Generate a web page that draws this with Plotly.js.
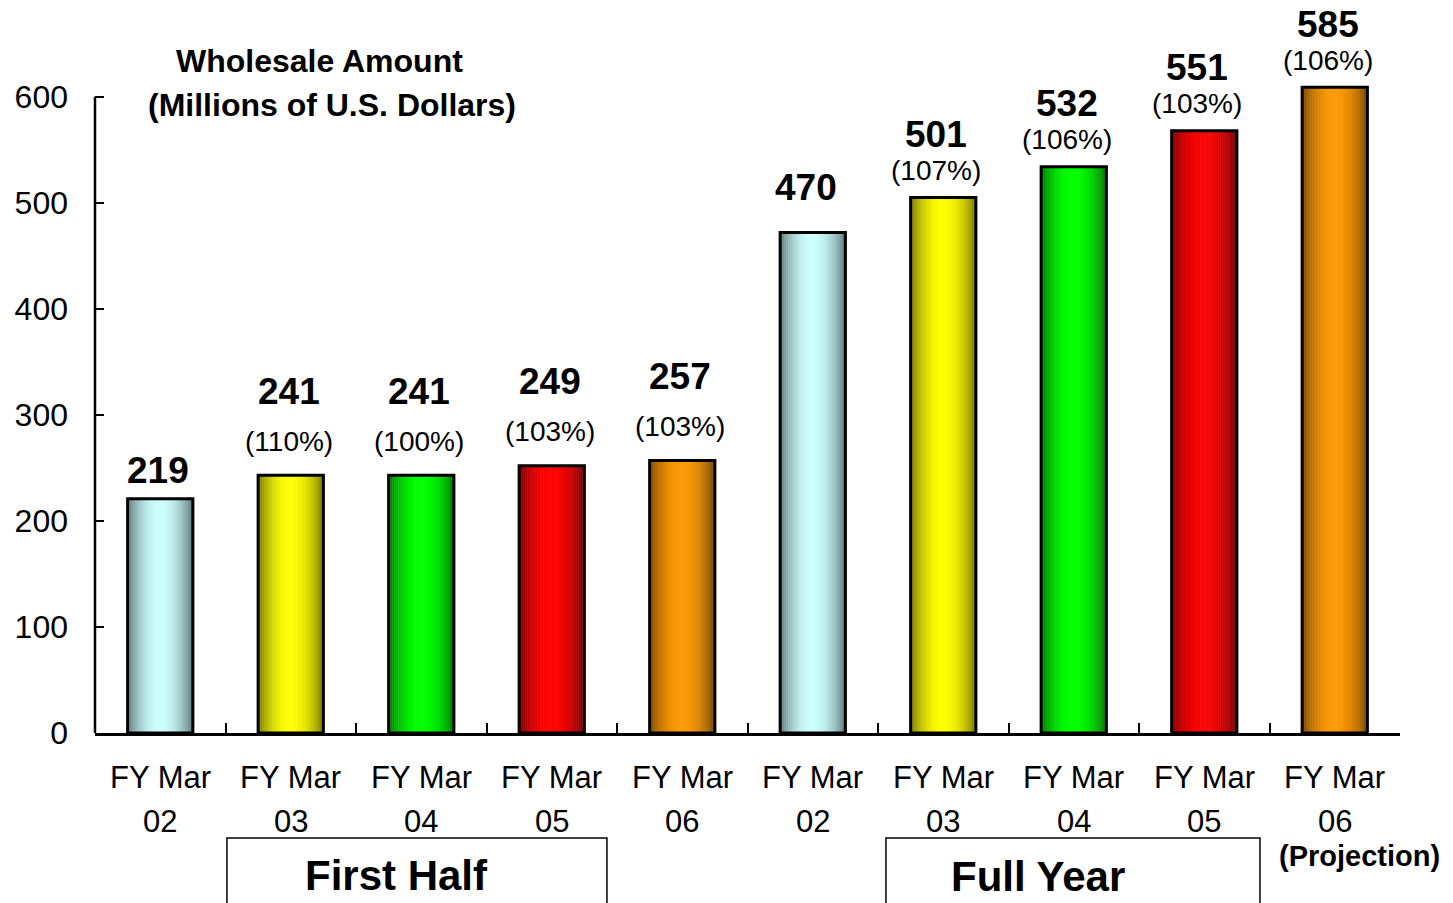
<!DOCTYPE html>
<html>
<head>
<meta charset="utf-8">
<script src="https://cdn.plot.ly/plotly-3.0.1.min.js"></script>
<style>html,body{margin:0;padding:0;background:#fff;}#chart{width:1453px;height:903px;}</style>
</head>
<body>
<div id="chart"></div>
<script>
// ---- data ----
const categories = ["H1 FY Mar 02","H1 FY Mar 03","H1 FY Mar 04","H1 FY Mar 05","H1 FY Mar 06",
                    "FY Mar 02","FY Mar 03","FY Mar 04","FY Mar 05","FY Mar 06 (Projection)"];
const barValues = [221, 243, 243, 252, 257, 472, 505, 534, 568, 609];
const valueLabels = ["219","241","241","249","257","470","501","532","551","585"];
const pctLabels = ["","(110%)","(100%)","(103%)","(103%)","","(107%)","(106%)","(103%)","(106%)"];
const groups = ["H1","H1","H1","H1","H1","FY","FY","FY","FY","FY"];
const tickTop = ["FY Mar","FY Mar","FY Mar","FY Mar","FY Mar","FY Mar","FY Mar","FY Mar","FY Mar","FY Mar"];
const tickBottom = ["02","03","04","05","06","02","03","04","05","06"];
const baseColors = ["#ccffff","#ffff00","#00ff00","#ff0000","#ff9900",
                    "#ccffff","#ffff00","#00ff00","#ff0000","#ff9900"];
const titleLines = ["Wholesale Amount","(Millions of U.S. Dollars)"];
const groupLabels = ["First Half","Full Year"];
const projectionLabel = "(Projection)";
const yMax = 600;

// ---- styling helpers ----
const FONT = "Liberation Sans, Arial, Helvetica, sans-serif";
function hexToRgb(h){h=h.replace('#','');return [parseInt(h.substr(0,2),16),parseInt(h.substr(2,2),16),parseInt(h.substr(4,2),16)];}
function shade(hex, t){
  const c = hexToRgb(hex);
  const f = Math.pow(Math.sin(Math.PI*t), 0.75);
  const darkF = 0.42;
  const out = c.map(v => Math.round(v*darkF + (v - v*darkF)*f));
  return 'rgb('+out.join(',')+')';
}

const W = 0.5;       // bar width in category units
const N = 32;        // slices for cylinder shading
const traces = [];
for (let k = 0; k < N; k++) {
  const t = (k + 0.5) / N;
  const cols = baseColors.map(c => shade(c, t));
  traces.push({
    type: 'bar', x: categories, y: barValues,
    width: W / N, offset: -W/2 + k*W/N,
    marker: {color: cols, line: {color: cols, width: 0.6}},
    hoverinfo: 'skip', showlegend: false, cliponaxis: false
  });
}
traces.push({
  type: 'bar', x: categories, y: barValues, width: W, offset: -W/2,
  marker: {color: 'rgba(0,0,0,0)', line: {color: '#000', width: 3}},
  hoverinfo: 'skip', showlegend: false, cliponaxis: false
});

// ---- annotations ----
const ann = [];
const offs = {H1: {val: 84, pct: 34, valNoPct: 28, dx: -2}, FY: {val: 63, pct: 27, valNoPct: 45, dx: -7}};
categories.forEach((c, i) => {
  const o = offs[groups[i]];
  const hasPct = pctLabels[i] !== "";
  ann.push({xref:'x', yref:'y', x: c, y: barValues[i], yshift: hasPct ? o.val : o.valNoPct, xshift: o.dx,
    text: valueLabels[i], showarrow:false, xanchor:'center', yanchor:'middle',
    font:{family:FONT, size:37, color:'#000', weight:'bold'}});
  if (hasPct) ann.push({xref:'x', yref:'y', x: c, y: barValues[i], yshift: o.pct, xshift: o.dx,
    text: pctLabels[i], showarrow:false, xanchor:'center', yanchor:'middle',
    font:{family:FONT, size:28, color:'#000'}});
  ann.push({xref:'x', yref:'paper', x: c, y: -0.0678, text: tickTop[i], showarrow:false,
    xanchor:'center', yanchor:'middle', font:{family:FONT, size:31, color:'#000'}});
  ann.push({xref:'x', yref:'paper', x: c, y: -0.1357, text: tickBottom[i], showarrow:false,
    xanchor:'center', yanchor:'middle', font:{family:FONT, size:31, color:'#000'}});
});
function paperAnn(x, y, text, size, bold){
  ann.push({xref:'paper', yref:'paper', x:x, y:y, text:text, showarrow:false,
    xanchor:'center', yanchor:'middle',
    font:{family:FONT, size:size, color:'#000', weight: bold ? 'bold' : 'normal'}});
}
paperAnn(0.1724, 1.0359, titleLines[0], 32, true);
paperAnn(0.1816, 0.9681, titleLines[1], 32, true);
paperAnn(0.2314, -0.2189, groupLabels[0], 42, true);
paperAnn(0.7226, -0.2204, groupLabels[1], 42, true);
paperAnn(0.9690, -0.1896, projectionLabel, 29, true);

const shapes = [
  {type:'line', xref:'paper', yref:'y', x0:0, x1:0, y0:0, y1:yMax, line:{color:'#000', width:2.5}},
  {type:'rect', xref:'paper', yref:'paper', x0:0.1011, x1:0.3923, y0:-0.1619, y1:-0.32,
   line:{color:'#000', width:1.5}, fillcolor:'rgba(0,0,0,0)'},
  {type:'rect', xref:'paper', yref:'paper', x0:0.6061, x1:0.8927, y0:-0.1619, y1:-0.32,
   line:{color:'#000', width:1.5}, fillcolor:'rgba(0,0,0,0)'}
];

const layout = {
  width: 1453, height: 903,
  margin: {l: 95, r: 53, t: 84.28, b: 170, pad: 0},
  paper_bgcolor: '#fff', plot_bgcolor: '#fff',
  barmode: 'overlay', showlegend: false, hovermode: false,
  xaxis: {type:'category', range:[-0.5, 9.5], showline:true, linecolor:'#000', linewidth:3,
    ticks:'inside', tickson:'boundaries', ticklen:10, tickwidth:2, tickcolor:'#000',
    showticklabels:false, showgrid:false, zeroline:false, fixedrange:true},
  yaxis: {range:[0, 612], tickvals:[0,100,200,300,400,500,600], showline:false,
    ticks:'inside', ticklen:9, tickwidth:2, tickcolor:'#000', ticklabelstandoff:26,
    tickfont:{family:FONT, size:32, color:'#000'}, showgrid:false, zeroline:false, fixedrange:true},
  annotations: ann, shapes: shapes
};

Plotly.newPlot('chart', traces, layout, {displayModeBar:false, staticPlot:true});
</script>
</body>
</html>
